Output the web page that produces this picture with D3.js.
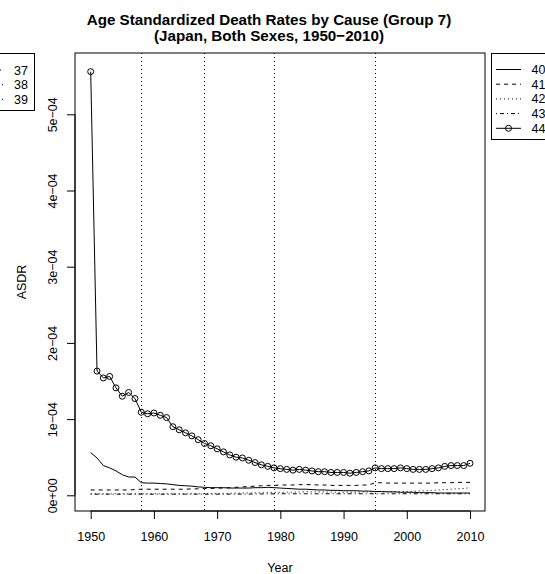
<!DOCTYPE html>
<html lang="en">
<head>
<meta charset="UTF-8">
<title>Age Standardized Death Rates by Cause (Group 7)</title>
<script src="https://cdn.jsdelivr.net/npm/d3@7"></script>
<style>
  body { margin: 0; padding: 0; background: #fff; }
  svg { display: block; font-family: "Liberation Sans", Arial, sans-serif; }
</style>
</head>
<body>
<div id="chart"></div>
<script>
// values are in units of 1e-4
const unit = 1e-4;

const years = [1950,1951,1952,1953,1954,1955,1956,1957,1958,1959,
  1960,1961,1962,1963,1964,1965,1966,1967,1968,1969,
  1970,1971,1972,1973,1974,1975,1976,1977,1978,1979,
  1980,1981,1982,1983,1984,1985,1986,1987,1988,1989,
  1990,1991,1992,1993,1994,1995,1996,1997,1998,1999,
  2000,2001,2002,2003,2004,2005,2006,2007,2008,2009,2010];

const cause40 = [0.56,0.49,0.39,0.36,0.32,0.27,0.24,0.24,0.165,0.16,
  0.16,0.155,0.15,0.14,0.13,0.125,0.12,0.11,0.105,0.10,
  0.10,0.10,0.095,0.095,0.095,0.095,0.10,0.10,0.105,0.10,
  0.095,0.09,0.085,0.08,0.08,0.075,0.07,0.07,0.065,0.065,
  0.06,0.06,0.06,0.055,0.055,0.05,0.05,0.045,0.045,0.04,
  0.04,0.04,0.035,0.035,0.035,0.03,0.03,0.03,0.03,0.03,0.03];

const cause41 = [0.07,0.07,0.07,0.07,0.07,0.07,0.07,0.075,0.08,0.08,
  0.08,0.08,0.08,0.08,0.08,0.08,0.085,0.085,0.09,0.09,
  0.095,0.095,0.10,0.105,0.11,0.115,0.12,0.125,0.13,0.13,
  0.135,0.135,0.135,0.14,0.14,0.14,0.135,0.135,0.13,0.13,
  0.13,0.13,0.13,0.135,0.135,0.165,0.165,0.16,0.16,0.16,
  0.16,0.16,0.16,0.16,0.16,0.165,0.165,0.165,0.17,0.17,0.17];

const cause42 = [0.02,0.02,0.02,0.02,0.02,0.02,0.02,0.02,0.02,0.02,
  0.02,0.02,0.02,0.02,0.02,0.02,0.02,0.02,0.02,0.022,
  0.022,0.024,0.026,0.028,0.03,0.03,0.032,0.034,0.036,0.038,
  0.04,0.04,0.042,0.044,0.045,0.045,0.045,0.044,0.042,0.04,
  0.04,0.04,0.04,0.042,0.044,0.045,0.046,0.047,0.048,0.049,
  0.05,0.053,0.056,0.06,0.065,0.07,0.075,0.08,0.085,0.09,0.10];

const cause43 = [0.015,0.015,0.015,0.015,0.015,0.015,0.015,0.015,0.015,0.015,
  0.015,0.015,0.015,0.015,0.015,0.015,0.015,0.015,0.015,0.015,
  0.015,0.015,0.015,0.015,0.016,0.016,0.017,0.018,0.018,0.019,
  0.02,0.02,0.02,0.02,0.02,0.02,0.02,0.02,0.02,0.02,
  0.02,0.02,0.02,0.02,0.02,0.02,0.02,0.02,0.02,0.02,
  0.02,0.02,0.02,0.02,0.02,0.02,0.02,0.02,0.02,0.02,0.02];

const cause44 = [5.56,1.63,1.54,1.56,1.41,1.30,1.35,1.27,1.09,1.07,
  1.08,1.05,1.02,0.90,0.86,0.82,0.78,0.73,0.68,0.65,
  0.61,0.57,0.53,0.50,0.49,0.46,0.43,0.40,0.38,0.36,
  0.35,0.34,0.33,0.34,0.33,0.32,0.31,0.31,0.30,0.30,
  0.30,0.29,0.30,0.31,0.32,0.36,0.35,0.35,0.35,0.36,
  0.35,0.34,0.34,0.34,0.35,0.36,0.38,0.39,0.39,0.39,0.42];

const revisionYears = [1958, 1968, 1979, 1995];
const xTicks = [1950, 1960, 1970, 1980, 1990, 2000, 2010];
const yTicks = [0, 1e-4, 2e-4, 3e-4, 4e-4, 5e-4];
const yTickLabels = ["0e+00", "1e\u221204", "2e\u221204", "3e\u221204", "4e\u221204", "5e\u221204"];

const seriesNames = ["40", "41", "42", "43", "44"];
const seriesData = [cause40, cause41, cause42, cause43, cause44];
const dashes = [null, "4,4", "1,3", "1,3,4,3", null];
const leftNames = ["37", "38", "39"];

const width = 545, height = 574;
const frame = { left: 75, right: 485, top: 53, bottom: 511 };
const fs = 12.5;

const svg = d3.select("#chart").append("svg")
  .attr("width", width).attr("height", height);

const x = d3.scaleLinear().domain([1950, 2010]).range([90.7, 470]);
const y = d3.scaleLinear().domain([0, 5e-4]).range([495.3, 114.3]);

svg.append("defs").append("clipPath").attr("id", "plotclip")
  .append("rect")
  .attr("x", frame.left).attr("y", frame.top)
  .attr("width", frame.right - frame.left).attr("height", frame.bottom - frame.top);

// title
const title = svg.append("text")
  .attr("text-anchor", "middle")
  .attr("font-weight", "bold")
  .attr("font-size", 15.2);
title.append("tspan").attr("x", 269).attr("y", 24.5)
  .text("Age Standardized Death Rates by Cause (Group 7)");
title.append("tspan").attr("x", 269).attr("y", 40.5)
  .text("(Japan, Both Sexes, 1950\u22122010)");

const plot = svg.append("g").attr("clip-path", "url(#plotclip)");

// revision lines
plot.selectAll("line.rev").data(revisionYears).enter().append("line")
  .attr("class", "rev")
  .attr("x1", d => Math.round(x(d)) + 0.5).attr("x2", d => Math.round(x(d)) + 0.5)
  .attr("y1", frame.top).attr("y2", frame.bottom)
  .attr("stroke", "#000").attr("stroke-width", 1)
  .attr("stroke-dasharray", "1,3");

const line = d3.line()
  .x((d, i) => x(years[i]))
  .y(d => y(d * unit));

seriesData.forEach((s, k) => {
  plot.append("path")
    .datum(s)
    .attr("d", line)
    .attr("fill", "none")
    .attr("stroke", "#000")
    .attr("stroke-width", 1)
    .attr("stroke-dasharray", dashes[k]);
});

plot.selectAll("circle.pt").data(cause44).enter().append("circle")
  .attr("class", "pt")
  .attr("cx", (d, i) => x(years[i]))
  .attr("cy", d => y(d * unit))
  .attr("r", 3)
  .attr("fill", "none")
  .attr("stroke", "#000")
  .attr("stroke-width", 1);

// frame
svg.append("rect")
  .attr("x", frame.left).attr("y", frame.top)
  .attr("width", frame.right - frame.left).attr("height", frame.bottom - frame.top)
  .attr("fill", "none").attr("stroke", "#000").attr("stroke-width", 1);

// x axis
const xAxis = d3.axisBottom(x).tickValues(xTicks).tickFormat(d3.format("d"))
  .tickSize(8).tickPadding(13);
const gx = svg.append("g").attr("transform", `translate(0,${frame.bottom})`).call(xAxis);
gx.select(".domain").attr("d", `M${x(1950)},0H${x(2010)}`);
gx.selectAll("text").attr("font-size", fs).attr("font-family", "Liberation Sans, Arial, sans-serif");

// y axis
const yAxis = d3.axisLeft(y).tickValues(yTicks).tickFormat((d, i) => yTickLabels[i])
  .tickSize(8);
const gy = svg.append("g").attr("transform", `translate(${frame.left},0)`).call(yAxis);
gy.select(".domain").attr("d", `M0,${y(0)}V${y(5e-4)}`);
gy.selectAll("text")
  .attr("font-size", fs).attr("font-family", "Liberation Sans, Arial, sans-serif")
  .attr("text-anchor", "middle")
  .attr("dy", null)
  .attr("x", null)
  .attr("transform", "translate(-18,0) rotate(-90)");

// axis titles
svg.append("text").attr("x", 280).attr("y", 571.5)
  .attr("text-anchor", "middle").attr("font-size", fs).text("Year");
svg.append("text")
  .attr("transform", "translate(25.5,282) rotate(-90)")
  .attr("text-anchor", "middle").attr("font-size", fs).text("ASDR");

// right legend
const rowH = 14.7;
const leg = svg.append("g");
leg.append("rect").attr("x", 491.5).attr("y", 53.5)
  .attr("width", 80).attr("height", 86)
  .attr("fill", "#fff").attr("stroke", "#000");
seriesNames.forEach((n, k) => {
  const yy = 69.5 + k * rowH;
  leg.append("line").attr("x1", 496).attr("x2", 521).attr("y1", yy).attr("y2", yy)
    .attr("stroke", "#000").attr("stroke-dasharray", dashes[k]);
  if (k === 4) {
    leg.append("circle").attr("cx", 508.5).attr("cy", yy).attr("r", 3)
      .attr("fill", "none").attr("stroke", "#000");
  }
  leg.append("text").attr("x", 531.5).attr("y", yy + 4.5)
    .attr("font-size", fs).text(n);
});

// left legend (belongs to previous panel, clipped by page edge)
const legL = svg.append("g");
legL.append("rect").attr("x", -40).attr("y", 53.5)
  .attr("width", 74.5).attr("height", 57)
  .attr("fill", "#fff").attr("stroke", "#000");
const leftDash = ["1,3,4,3", "4,4", "1,3"];
leftNames.forEach((n, k) => {
  const yy = 70 + k * rowH;
  legL.append("line").attr("x1", -22).attr("x2", 3).attr("y1", yy).attr("y2", yy)
    .attr("stroke", "#000").attr("stroke-dasharray", leftDash[k]);
  legL.append("text").attr("x", 14).attr("y", yy + 4.5)
    .attr("font-size", fs).text(n);
});
</script>
</body>
</html>
